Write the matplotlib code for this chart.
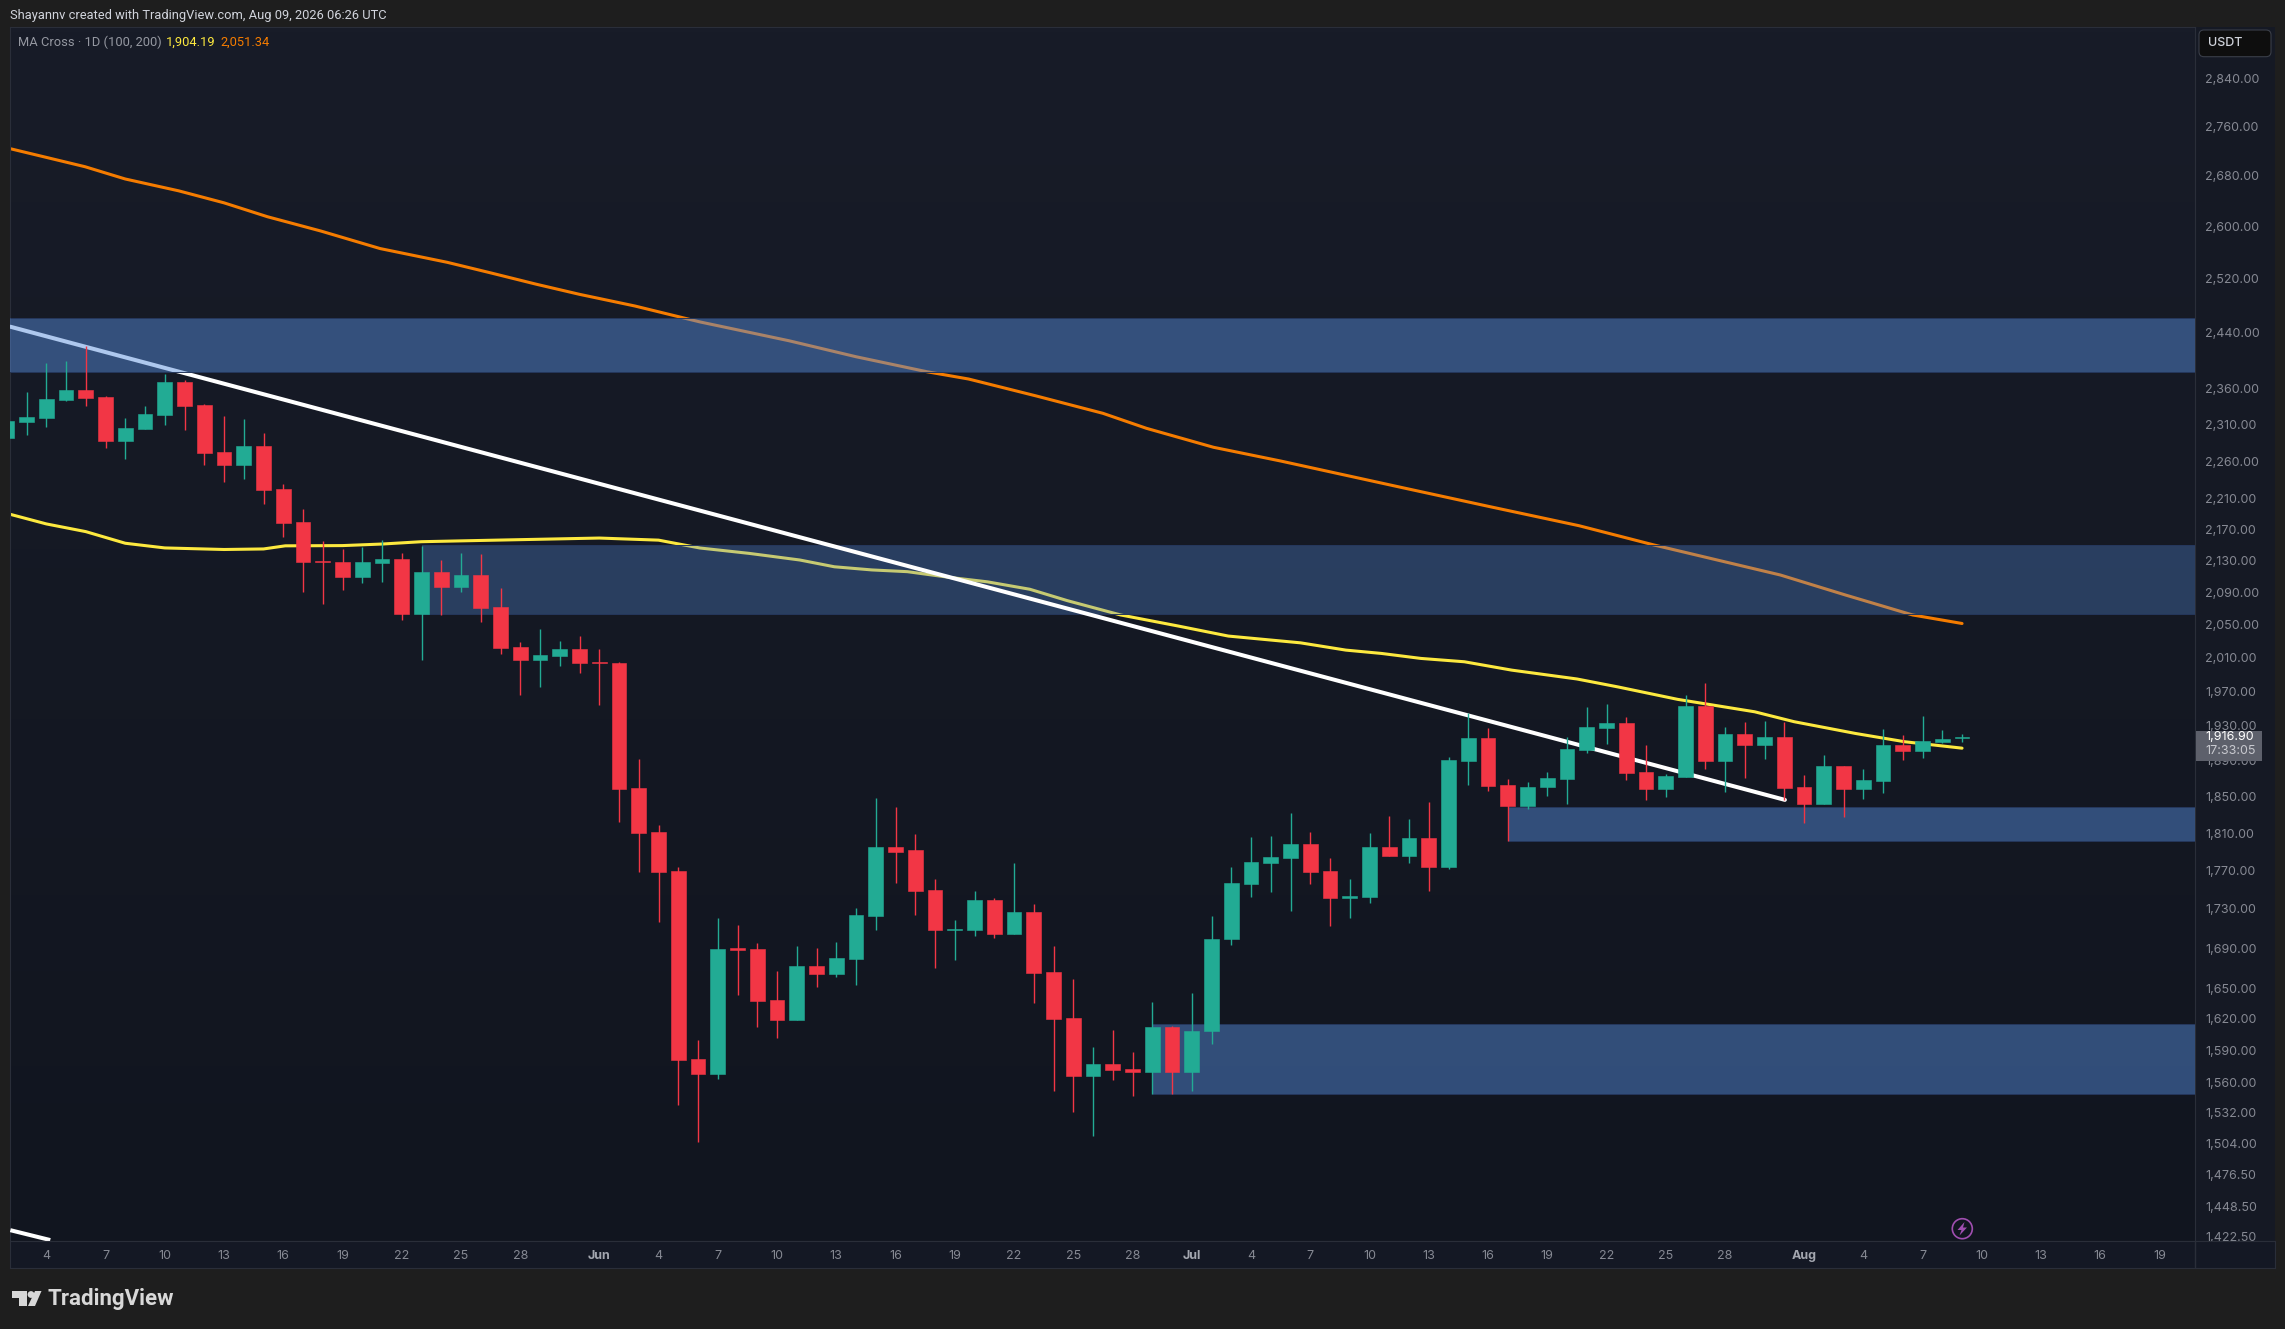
import numpy as np
import matplotlib
matplotlib.use("Agg")
import matplotlib.pyplot as plt
from matplotlib.colors import LinearSegmentedColormap
from matplotlib.patches import Circle, FancyBboxPatch, Polygon, Rectangle
from matplotlib.transforms import IdentityTransform

plt.rcParams['font.family'] = ['Inter', 'Roboto', 'DejaVu Sans']

# daily candles, first one is May 2 (day 0 = May 4)
first_day = -2
opens = [2292, 2313.5, 2319, 2344, 2358, 2348, 2288, 2304, 2323, 2370, 2337, 2273, 2255, 2281, 2223, 2179, 2129, 2128,
         2109, 2127, 2132, 2063, 2115, 2096, 2112, 2072, 2023, 2007, 2012, 2020, 2004.5, 2004, 1859, 1811, 1770, 1582,
         1568, 1690, 1689, 1638, 1619, 1672, 1664, 1679, 1723, 1795, 1792, 1750, 1708.5, 1708.5, 1739, 1704, 1727, 1666,
         1621, 1566, 1577, 1572.5, 1569.5, 1612, 1569.5, 1608, 1699, 1756, 1778, 1783, 1798, 1769.6, 1741, 1742, 1795,
         1785.5, 1805, 1774, 1890, 1916, 1863, 1840, 1860, 1869.5, 1902, 1927, 1933, 1877, 1858, 1872, 1953, 1890, 1920,
         1908, 1917, 1860.5, 1842, 1884, 1858, 1867, 1908, 1901, 1911, 1915.5]
highs = [2323, 2355, 2397, 2399, 2421, 2350, 2319, 2336, 2381, 2372.5, 2338.5, 2322, 2318, 2298, 2229.5, 2196, 2155, 2145,
         2147, 2156, 2140, 2148.5, 2130.5, 2140, 2138.5, 2095, 2029, 2045, 2030, 2036, 2020, 2005, 1892, 1819, 1774, 1600,
         1721, 1713, 1695, 1667, 1692, 1690, 1696, 1731, 1848, 1839, 1809, 1761, 1719, 1749, 1741, 1778, 1735, 1692,
         1659, 1593, 1609, 1588, 1636, 1613, 1645, 1723, 1774, 1806, 1807, 1832, 1811, 1783, 1761, 1810, 1829,
         1825, 1844, 1894, 1945, 1927, 1870, 1866, 1877, 1917, 1952, 1955, 1940, 1908, 1875, 1966, 1980, 1928, 1934,
         1935, 1934, 1874, 1897, 1884, 1881, 1926, 1919, 1941, 1925, 1920]
lows = [2289, 2296, 2307, 2343, 2336, 2278, 2263, 2304, 2309, 2303, 2255, 2232, 2236, 2203, 2160, 2090, 2075, 2093,
        2101.5, 2103, 2056, 2007, 2062, 2090, 2053, 2014, 1966, 1975, 2000, 1992, 1954, 1822, 1768, 1716, 1539, 1505,
        1563, 1643, 1612, 1602, 1619, 1651, 1661, 1653, 1708, 1757, 1724, 1670, 1678, 1702, 1700, 1704, 1635, 1552,
        1532, 1511, 1562, 1547, 1549, 1549, 1552, 1596, 1693, 1742, 1747.5, 1728, 1756, 1712.5, 1721, 1736, 1785.5,
        1778, 1749, 1772, 1863, 1856, 1801, 1836.5, 1851, 1842, 1899, 1909, 1868, 1846, 1850, 1872, 1881, 1855, 1871,
        1892, 1846, 1821, 1842, 1828, 1847, 1854, 1891, 1893, 1910, 1911]
closes = [2315, 2320, 2346, 2358, 2347, 2288, 2305, 2325, 2370, 2336, 2271.5, 2255, 2281, 2221.5, 2178, 2128, 2128, 2109,
          2128, 2132, 2063, 2115, 2096, 2112, 2070.5, 2022, 2007, 2013, 2020, 2004, 2003.5, 1858, 1810, 1769, 1581, 1568,
          1689, 1688.5, 1637, 1619, 1672, 1664, 1680, 1724, 1795, 1790, 1749, 1708.5, 1709.5, 1739, 1704, 1727, 1665, 1620,
          1566, 1577, 1571.5, 1569.5, 1612, 1569.5, 1608, 1699, 1757, 1779, 1784, 1798, 1769, 1741, 1743, 1795, 1785.5,
          1805, 1774, 1891, 1916, 1862, 1840, 1860.5, 1870.6, 1903, 1928, 1933, 1876, 1858, 1873, 1953, 1890, 1920, 1908,
          1917, 1859, 1842, 1884, 1858, 1868, 1908, 1901, 1912, 1914.6, 1916.9]

# moving averages
ma100_days = [-2, 0, 2, 4, 6, 9, 11, 12.1, 15, 17, 19, 22, 28, 31, 33.1, 35.6, 38.15, 39.9, 41.8, 43.6, 45.7, 47.65, 49.8,
              51.7, 54.4, 57.3, 59.85, 63.5, 65.8, 67.6, 69.6, 71.8, 74.2, 77.5, 79.6, 82.6, 86.5, 88.5, 91.6, 94.1, 97]
ma100 = [2190.7, 2177, 2167, 2152, 2146, 2144, 2144.7, 2148.7, 2149, 2151, 2154, 2155.6, 2158.7, 2156, 2145.9, 2139, 2130.6,
         2122, 2118, 2115.8, 2108.7, 2103, 2093.7, 2079.5, 2061.8, 2048.3, 2036, 2027.8, 2019, 2015, 2009, 2005, 1995,
         1984.5, 1975, 1960.5, 1946, 1934.5, 1921, 1911.5, 1904.19]
ma200_days = [-2, 1.96, 4, 6.7, 9, 11.2, 13.9, 16.9, 20.3, 22.5, 24.8, 27, 29.8, 33.1, 37.6, 41, 44.6, 46.7, 50.1, 53.5,
              55.7, 59.1, 62.5, 68.6, 73.1, 77.6, 81.4, 87.8, 91.1, 94.5, 97]
ma200 = [2725, 2694.5, 2674.8, 2656, 2637, 2615.2, 2593, 2566, 2545, 2529, 2512, 2496.8, 2479.5, 2456, 2428.6, 2405.5,
         2384, 2373.7, 2350, 2325.6, 2304.9, 2278.9, 2260.3, 2225, 2199.5, 2174.7, 2149.8, 2111.6, 2086.5, 2061.8, 2051.34]

# drawn objects: blue zones and the white trendlines
zone_starts = [-2, 19, 74, 56]
zone_lows = [2384, 2063.5, 1801.6, 1549.2]
zone_highs = [2462.2, 2149.8, 1838.5, 1615]
zone_alphas = [0.48, 0.33, 0.48, 0.48]
trend_days = [-1.82, 88.03]
trend_prices = [2449, 1846.3]
trend2_days = [-1.82, 0.2]
trend2_prices = [1428, 1419.6]

price_ticks = [2840, 2760, 2680, 2600, 2520, 2440, 2360, 2310, 2260, 2210, 2170, 2130, 2090, 2050, 2010, 1970, 1930, 1890,
               1850, 1810, 1770, 1730, 1690, 1650, 1620, 1590, 1560, 1532, 1504, 1476.5, 1448.5, 1422.5]
date_ticks = [0, 3, 6, 9, 12, 15, 18, 21, 24, 28, 31, 34, 37, 40, 43, 46, 49, 52, 55, 58, 61, 64, 67, 70, 73, 76, 79,
              82, 85, 89, 92, 95, 98, 101, 104, 107]
date_labels = ['4', '7', '10', '13', '16', '19', '22', '25', '28', 'Jun', '4', '7', '10', '13', '16', '19', '22', '25', '28',
               'Jul', '4', '7', '10', '13', '16', '19', '22', '25', '28', 'Aug', '4', '7', '10', '13', '16', '19']

W, H = 2285, 1329
LEFT, RIGHT, FAR_RIGHT, TOP, BOTTOM, FAR_BOTTOM = 10, 2195, 2275, 27, 1241, 1268
BORDER = '#2a2e39'
GREEN, RED = '#22ab94', '#f23645'
YELLOW, ORANGE = '#fde93f', '#f57c00'
ZONE = (86 / 255, 140 / 255, 220 / 255)
X0, DAY_PX = 46.3, 19.75


def day_at(px):
    return (px - X0) / DAY_PX


def rect(x0, y0, x1, y1):
    # figure fractions from picture pixels
    return [x0 / W, 1 - y1 / H, (x1 - x0) / W, (y1 - y0) / H]


def pts(xy):
    return [(x, H - y) for x, y in xy]


fig = plt.figure(figsize=(W / 100, H / 100), dpi=100, facecolor='#1e1e1e')
fig.add_artist(Rectangle((RIGHT, H - FAR_BOTTOM), FAR_RIGHT - RIGHT, FAR_BOTTOM - TOP, transform=IdentityTransform(),
                         facecolor='#151924', edgecolor='none', zorder=-1))

ax = fig.add_axes(rect(LEFT, TOP, RIGHT, BOTTOM), zorder=1)
grad = LinearSegmentedColormap.from_list('bg', ['#181c28', '#11151f'])
ax.imshow(np.linspace(0, 1, 256).reshape(-1, 1), cmap=grad, aspect='auto', extent=[0, 1, 0, 1],
          transform=ax.transAxes, zorder=0)

ax.plot(ma100_days, ma100, color=YELLOW, lw=2.2, zorder=2, solid_capstyle='round', solid_joinstyle='round')
ax.plot(ma200_days, ma200, color=ORANGE, lw=2.2, zorder=2, solid_capstyle='round', solid_joinstyle='round')

ax.plot(trend_days, trend_prices, color='white', lw=2.9, zorder=2.8, solid_capstyle='round')
ax.plot(trend2_days, trend2_prices, color='white', lw=2.9, zorder=2.8, solid_capstyle='butt')

x_right = day_at(RIGHT)
for i in range(len(zone_starts)):
    # the second zone sits under the trendline, the others over it
    z = 2.6 if i == 1 else 3
    ax.fill_between([zone_starts[i], x_right], zone_lows[i], zone_highs[i], color=ZONE, alpha=zone_alphas[i],
                    linewidth=0, zorder=z)
    ax.hlines([zone_lows[i], zone_highs[i]], max(zone_starts[i], day_at(LEFT)), x_right, color='#25375c', lw=0.7, zorder=z)

days = np.arange(len(opens)) + first_day
colors = [GREEN if c >= o else RED for o, c in zip(opens, closes)]
ax.vlines(days, lows, highs, color=colors, lw=1.0, zorder=5)
body_low = np.minimum(opens, closes)
body_high = np.maximum(opens, closes)
ax.bar(days, body_high - body_low, bottom=body_low, width=0.74, color=colors, edgecolor=colors, linewidth=0.4, zorder=6)

ax.set_yscale('log')
ax.set_xlim(day_at(LEFT), x_right)
ax.set_ylim(1418.8, 2928.9)
ax.set_xticks([])
ax.yaxis.tick_right()
ax.set_yticks(price_ticks, labels=[f'{p:,.2f}' for p in price_ticks])
ax.minorticks_off()
ax.tick_params(axis='y', length=0, pad=7.2, labelsize=9.0, labelcolor='#868993')
for side in ['top', 'bottom', 'left']:
    ax.spines[side].set_color(BORDER)
ax.spines['right'].set_color(BORDER)

# time scale, also cuts off the lowest price label like on the site
tax = fig.add_axes(rect(LEFT, BOTTOM, FAR_RIGHT, FAR_BOTTOM), zorder=2, facecolor='#141824')
tax.set_xlim(day_at(LEFT), day_at(FAR_RIGHT))
tax.set_yticks([])
tax.set_xticks(date_ticks, labels=date_labels)
tax.tick_params(axis='x', length=0, pad=-13, labelsize=9.0, labelcolor='#868993')
for lab in tax.get_xticklabels():
    if lab.get_text() in ('Jun', 'Jul', 'Aug'):
        lab.set_fontweight('bold')
        lab.set_color('#a3a6af')
for side in tax.spines:
    tax.spines[side].set_color(BORDER)
tax.vlines(day_at(RIGHT), 0, 1, color=BORDER, lw=1.0)
tax.set_ylim(0, 1)


def label(x, y, s, color, size, **kw):
    fig.text(x / W, 1 - y / H, s, color=color, fontsize=size, va='center', zorder=10, **kw)


label(10, 15.7, 'Shayannv created with TradingView.com, Aug 09, 2026 06:26 UTC', '#d1d4dc', 9.3, family='Roboto')
label(18, 42.7, 'MA Cross · 1D (100, 200)', '#9598a1', 9.3, family='Roboto')
label(166, 42.7, '1,904.19', YELLOW, 9.3, family='Roboto')
label(220.7, 42.7, '2,051.34', ORANGE, 9.3, family='Roboto')

# USDT badge
fig.add_artist(FancyBboxPatch((2201, H - 54.7), 68, 22.7, boxstyle='round,pad=2,rounding_size=5', transform=IdentityTransform(),
                              facecolor='#0e0e0e', edgecolor='#3a3e48', lw=0.8, zorder=9))
label(2208, 43.3, 'USDT', '#d1d4dc', 9.0, fontweight='medium')

# last price tag
fig.add_artist(Rectangle((2196, H - 760.7), 66, 30.2, transform=IdentityTransform(), facecolor='#5d606b', edgecolor='none', zorder=9))
label(2205, 737.5, '1,916.90', '#ffffff', 9.0)
label(2205, 751.5, '17:33:05', '#c8c9cf', 9.0)

# lightning icon
fig.add_artist(Circle((1962.3, H - 1228.7), 10, transform=IdentityTransform(), facecolor='none', edgecolor='#a04eb0', lw=1.2, zorder=9))
fig.add_artist(Polygon(pts([(1964.5, 1222), (1957.5, 1230), (1961.5, 1230), (1959.5, 1235.5), (1967, 1227.5), (1963, 1227.5)]),
                       transform=IdentityTransform(), facecolor='#a04eb0', edgecolor='none', zorder=9))

# TradingView logo
logo = '#d8d8d8'
fig.add_artist(Polygon(pts([(12, 1291), (27, 1291), (27, 1306), (19, 1306), (19, 1298), (12, 1298)]),
                       transform=IdentityTransform(), facecolor=logo, edgecolor='none', zorder=9))
fig.add_artist(Circle((31, H - 1294.5), 3.4, transform=IdentityTransform(), facecolor=logo, edgecolor='none', zorder=9))
fig.add_artist(Polygon(pts([(35, 1291), (41.5, 1291), (35, 1306), (28, 1306)]),
                       transform=IdentityTransform(), facecolor=logo, edgecolor='none', zorder=9))
label(47.5, 1298.5, 'TradingView', logo, 16.0, fontweight='bold', family='Roboto')

fig.savefig('out.png', dpi=100, facecolor=fig.get_facecolor())
